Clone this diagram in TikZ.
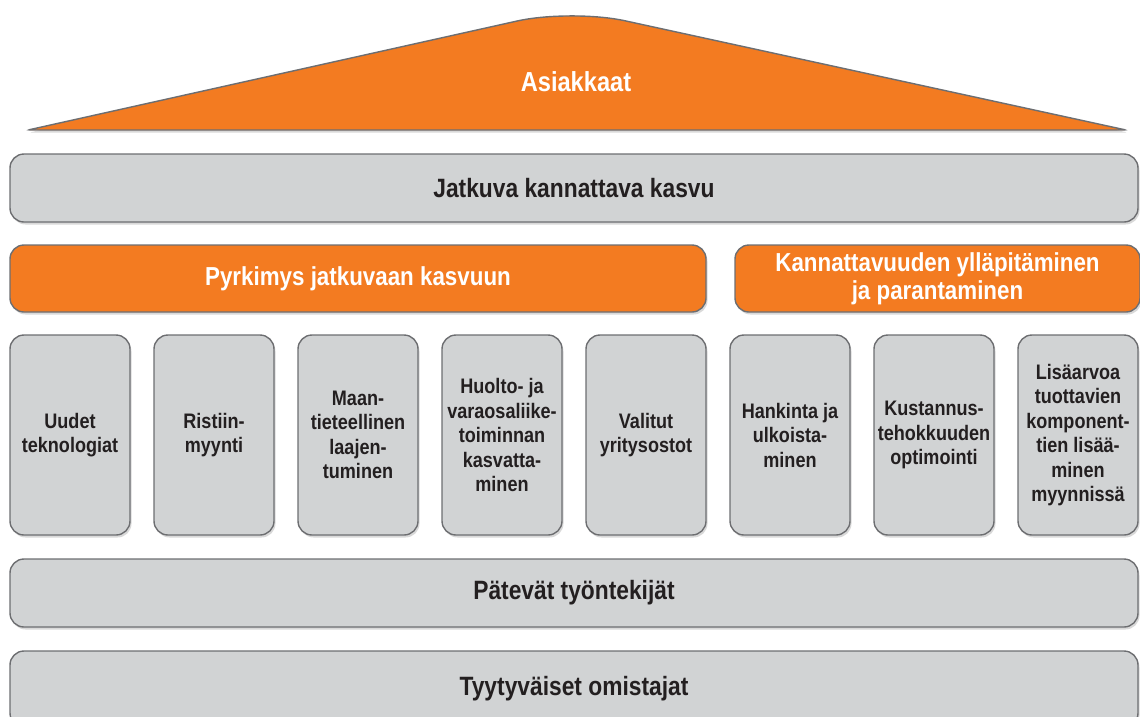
\documentclass[tikz,border=0pt]{standalone}
\usepackage{fontspec}
\setmainfont{Liberation Sans}[FakeStretch=0.86]
\usetikzlibrary{shadows}
\definecolor{roofor}{HTML}{F37B21}
\definecolor{slab}{HTML}{D1D3D4}
\definecolor{rim}{HTML}{6D6E71}
\definecolor{ink}{HTML}{231F20}

\begin{document}
\begin{tikzpicture}[x=1pt, y=-1pt,
	base/.style={draw=rim, line width=1.4pt, rounded corners=14pt, inner sep=0pt,
		drop shadow={opacity=.3, shadow xshift=1.5pt, shadow yshift=-2.5pt}},
	band/.style={base, fill=slab, text=ink, minimum width=1128pt, minimum height=68pt,
		font=\bfseries\fontsize{26.5}{30}\selectfont},
	bar/.style={base, fill=roofor, text=white, minimum height=67pt, align=center,
		font=\bfseries\fontsize{26}{28}\selectfont},
	pillar/.style={base, fill=slab, text=ink, minimum width=120pt, minimum height=200pt, align=center,
		font=\bfseries\fontsize{21}{24.5}\selectfont}]
	\useasboundingbox (0,0) rectangle (1140,716);
	% roof
	\draw[draw=rim, line width=1.4pt, fill=roofor, drop shadow={opacity=.3, shadow xshift=1.5pt, shadow yshift=-2.5pt}]
		(28,130) [rounded corners=55pt] -- (571,9) [rounded corners=2pt] -- (1126,130) -- cycle;
	\node[text=white, font=\bfseries\fontsize{27.5}{30}\selectfont] (asiakkaat) at (576,82) {Asiakkaat};
	% bands
	\node[band] (kasvu) at (574,188) {Jatkuva kannattava kasvu};
	\node[bar, minimum width=696pt] (pyrkimys) at (358,278.5) {Pyrkimys jatkuvaan kasvuun};
	\node[bar, minimum width=405pt] (kannatt) at (937.5,278.5) {Kannattavuuden ylläpitäminen\\ja parantaminen};
	% pillars
	\foreach \txt [count=\i from 0] in {{Uudet\\teknologiat}, {Ristiin-\\myynti},
		{Maan-\\tieteellinen\\laajen-\\tuminen}, {Huolto- ja\\varaosaliike-\\toiminnan\\kasvatta-\\minen},
		{Valitut\\yritysostot}, {Hankinta ja\\ulkoista-\\minen},
		{Kustannus-\\tehokkuuden\\optimointi},
		{Lisäarvoa\\tuottavien\\komponent-\\tien lisää-\\minen\\myynnissä}}
		\node[pillar] (p\i) at ({70+144*\i},435) {\txt};
	\node[band] (tyontekijat) at (574,593) {Pätevät työntekijät};
	\node[band, minimum height=76pt] (omistajat) at (574,689) {Tyytyväiset omistajat};
\end{tikzpicture}
\end{document}
